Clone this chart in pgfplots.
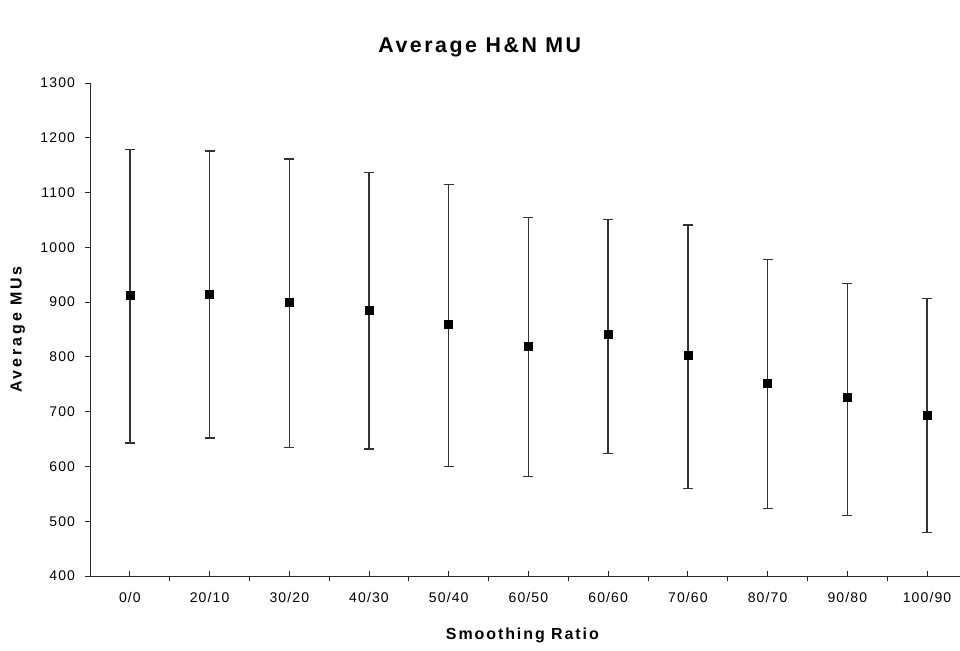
\documentclass[border=0pt]{standalone}
\usepackage{fontspec}
\setmainfont{Liberation Sans}[LetterSpace=8]
\newfontfamily\titlefont{Liberation Sans}[LetterSpace=12,BoldFont={Liberation Sans Bold}]
\newfontfamily\labelfont{Liberation Sans}[LetterSpace=12,BoldFont={Liberation Sans Bold}]
\newfontfamily\ylabelfont{Liberation Sans}[LetterSpace=18,BoldFont={Liberation Sans Bold}]
\usepackage{pgfplots}
\usepackage{pgfplotstable}
\pgfplotsset{compat=1.18}
\pgfplotstableread{
x y ep em
0 912 266 269
1 914 262 262
2 900 261 266
3 886 251 254
4 860 255 260
5 820 234 238
6 841 210 217
7 803 238 243
8 751 227 228
9 727 207 217
10 694 213 215
}\datatable
\begin{document}
\begin{tikzpicture}
\path[use as bounding box] (0,0) rectangle (720pt,487.5pt);
\begin{axis}[
  at={(67.5pt,55.5pt)}, anchor=south west,
  width=652.5pt, height=369.75pt, scale only axis,
  xmin=-0.5, xmax=10.414,
  ymin=400, ymax=1300,
  ytick={400,500,...,1300},
  xtick={0,...,10},
  xticklabels={0/0,20/10,30/20,40/30,50/40,60/50,60/60,70/60,80/70,90/80,100/90},
  extra x ticks={0.5,1.5,...,9.5},
  extra x tick labels={},
  extra x tick style={xtick align=outside, major tick length=3.75pt},
  axis x line=bottom, axis y line=left,
  axis line style={-, line width=0.75pt, black!85},
  x tick style={line width=0.75pt, black!85},
  y tick style={line width=0.75pt, black!85},
  xtick align=inside, ytick align=outside,
  major tick length=3.75pt,
  /pgf/number format/assume math mode=true,
  /pgf/number format/1000 sep={},
  tick label style={font=\fontsize{10.5}{12}\selectfont},
  xticklabel style={yshift=-9pt},
  yticklabel style={xshift=-4pt},
  xlabel={\labelfont\bfseries Smoothing Ratio},
  ylabel={\ylabelfont\bfseries Average MUs},
  xlabel style={at={(axis description cs:0.497,-0.12)}, anchor=center, font=\fontsize{12}{14}\selectfont},
  ylabel style={at={(axis description cs:-0.083,0.5)}, anchor=center, font=\fontsize{12}{14}\selectfont},
  title={\titlefont\bfseries Average H\&N MU},
  title style={at={(axis description cs:0.448,1.057)}, anchor=center, font=\fontsize{16}{18}\selectfont},
  clip=false,
]
\addplot[only marks, mark=square*, mark size=3pt, black,
  error bars/.cd, y dir=both, y explicit,
  error bar style={line width=1pt, black!80},
  error mark options={rotate=90, line width=1pt, black!80, mark size=3.75pt}]
  table[x=x, y=y, y error plus=ep, y error minus=em] {\datatable};
\end{axis}
\end{tikzpicture}
\end{document}
